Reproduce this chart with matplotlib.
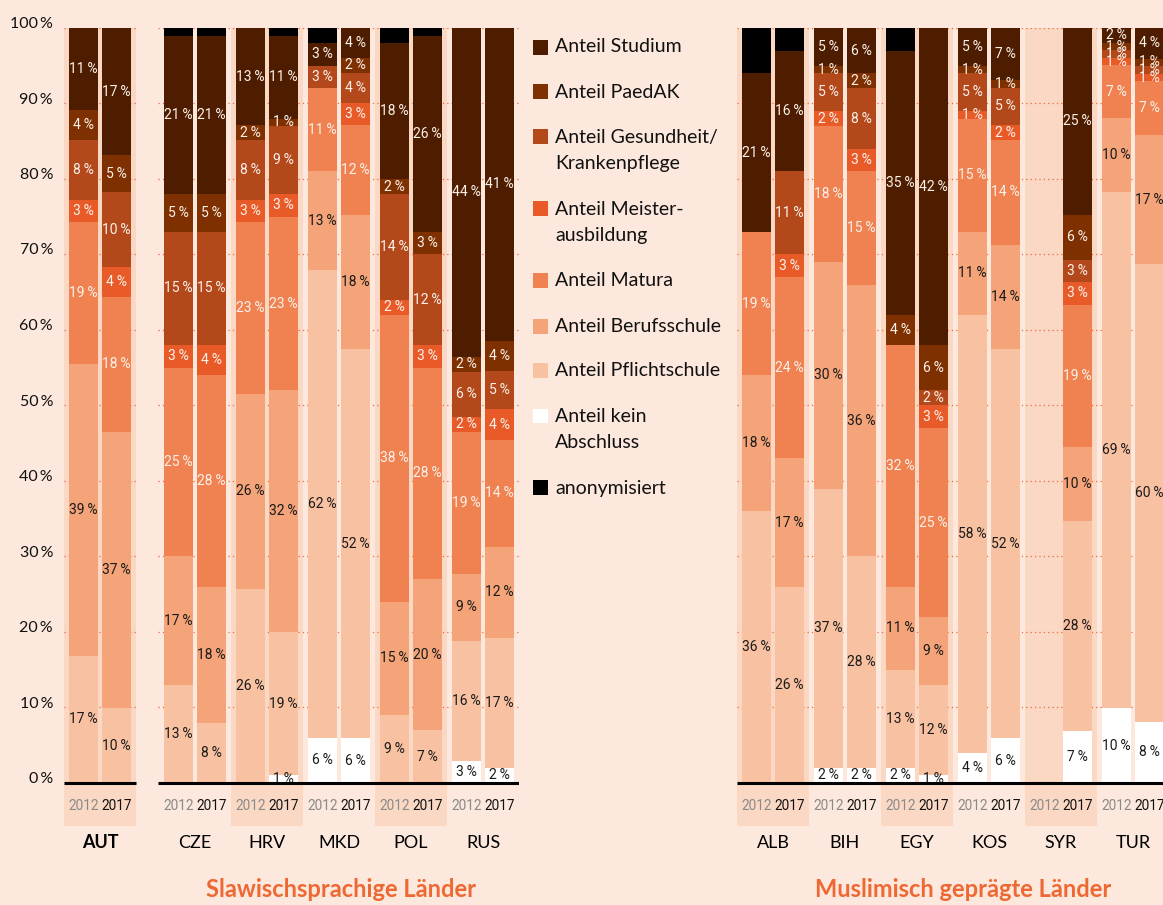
import numpy as np
import matplotlib.pyplot as plt
from matplotlib.patches import Rectangle

# -------------------------------------------------------
# Data: shares (%) per bar, order = country x (2012, 2017)
# -------------------------------------------------------
countries_left = ["AUT", "CZE", "HRV", "MKD", "POL", "RUS"]
countries_right = ["ALB", "BIH", "EGY", "KOS", "SYR", "TUR"]
years = ["2012", "2017"]

kein = [0, 0, 0, 0, 0, 1, 6, 6, 0, 0, 3, 2,
        0, 0, 2, 2, 2, 1, 4, 6, 0, 7, 10, 8]
pflicht = [17, 10, 13, 8, 26, 19, 62, 52, 9, 7, 16, 17,
           36, 26, 37, 28, 13, 12, 58, 52, 0, 28, 69, 60]
beruf = [39, 37, 17, 18, 26, 32, 13, 18, 15, 20, 9, 12,
         18, 17, 30, 36, 11, 9, 11, 14, 0, 10, 10, 17]
matura = [19, 18, 25, 28, 23, 23, 11, 12, 38, 28, 19, 14,
          19, 24, 18, 15, 32, 25, 15, 14, 0, 19, 7, 7]
meister = [3, 4, 3, 4, 3, 3, 0, 3, 2, 3, 2, 4,
           0, 3, 2, 3, 0, 3, 1, 2, 0, 3, 1, 1]
gesund = [8, 10, 15, 15, 8, 9, 3, 4, 14, 12, 6, 5,
          0, 11, 5, 8, 0, 2, 5, 5, 0, 3, 1, 1]
paedak = [4, 5, 5, 5, 2, 1, 0, 2, 2, 3, 2, 4,
          0, 0, 1, 2, 4, 6, 1, 1, 0, 6, 1, 1]
studium = [11, 17, 21, 21, 13, 11, 3, 4, 18, 26, 44, 41,
           21, 16, 5, 6, 35, 42, 5, 7, 0, 25, 2, 4]
anon = [0, 0, 1, 1, 0, 1, 2, 0, 2, 1, 0, 0,
        6, 3, 0, 0, 3, 0, 0, 0, 0, 0, 0, 0]

# stacking order bottom -> top
series = [kein, pflicht, beruf, matura, meister, gesund, paedak, studium]
colors = ["#FFFFFF", "#F8C2A2", "#F4A478", "#EF8250", "#E85B28",
          "#B3481B", "#7E3000", "#4E1D00"]
text_colors = ["#1A1A1A", "#1A1A1A", "#1A1A1A", "#FBF1EA", "#FBF1EA",
               "#FBF1EA", "#FBF1EA", "#FBF1EA"]
anon_color = "#000000"

legend_labels = ["Anteil Studium", "Anteil PaedAK", "Anteil Gesundheit/\nKrankenpflege",
                 "Anteil Meister-\nausbildung", "Anteil Matura", "Anteil Berufsschule",
                 "Anteil Pflichtschule", "Anteil kein\nAbschluss", "anonymisiert"]
legend_colors = colors[::-1][:7] + ["#FFFFFF", anon_color]

BG = "#FCE8DC"
BAND = "#FAD8C4"
GRID = "#EE6A3F"
ORANGE = "#EE6833"

W, H = 1163, 905
NARROW = ["Roboto", "DejaVu Sans"]
plt.rcParams["font.family"] = ["Lato", "DejaVu Sans"]

fig = plt.figure(figsize=(W / 100, H / 100), dpi=100)
fig.patch.set_facecolor(BG)

Y0 = -5.7
BAR_OFF = 0.229
BAR_W = 0.40


def px(x, y):
    return x / W, 1 - y / H


def draw_group(ax, names, xpos, start, bands, axis_segments, title, title_x):
    ax.set_facecolor("none")
    ax.set_xlim(axis_segments[0][0], axis_segments[-1][1])
    ax.set_ylim(Y0, 100)
    ax.axis("off")

    for b in bands:
        ax.add_patch(Rectangle((xpos[b] - 0.5, Y0), 1.0, 100 - Y0,
                               facecolor=BAND, edgecolor="none", zorder=0))
    for g in range(10, 101, 10):
        for a, b in axis_segments:
            ax.hlines(g, a, b, colors=GRID, lw=0.9, linestyles=(0, (1, 2.5)), zorder=1)
    for a, b in axis_segments:
        ax.hlines(0, a, b, colors="black", lw=2.2, zorder=5)

    for ci, name in enumerate(names):
        for yi, yr in enumerate(years):
            i = start + ci * 2 + yi
            x = xpos[ci] + (BAR_OFF if yi else -BAR_OFF)
            vals = [s[i] for s in series]
            tot = sum(vals)
            ax.text(x, -3.05, yr, ha="center", va="center", fontsize=9.8,
                    family=NARROW, color="#8A8A8A" if yi == 0 else "#111111")
            if tot == 0:
                continue
            scale = (100 - anon[i]) / tot
            bottom = 0
            for v, c, tc in zip(vals, colors, text_colors):
                h = v * scale
                if v > 0:
                    ax.bar(x, h, BAR_W, bottom=bottom, color=c, edgecolor="none", zorder=2)
                    ax.text(x, bottom + h / 2, f"{v}\u2009%", ha="center", va="center",
                            fontsize=10, family=NARROW, color=tc, zorder=3)
                bottom += h
            if anon[i] > 0:
                ax.bar(x, anon[i], BAR_W, bottom=bottom, color=anon_color,
                       edgecolor="none", zorder=2)
        ax.text(xpos[ci], -7.95, name, ha="center", va="center", fontsize=13,
                color="black", fontweight="bold" if name == "AUT" else "normal")

    fig.text(*px(title_x, 889), title, ha="center", va="center", fontsize=17,
             fontweight="bold", color=ORANGE)


# -------------------------------------------------------
# Left group (Austria + Slavic-speaking countries)
# -------------------------------------------------------
ax_l = fig.add_axes([64 / W, 1 - 826 / H, 455 / W, 798 / H])
xpos_l = [0, 1.32, 2.32, 3.32, 4.32, 5.32]
draw_group(ax_l, countries_left, xpos_l, 0, [0, 2, 4],
           [(-0.5, 0.5), (0.806, 5.82)], "Slawischsprachige Länder", 341)

# y tick labels
for g in range(0, 101, 10):
    fig.text(53 / W, 1 - (783 - g * 7.55) / H, f"{g}\u2009%", ha="right", va="baseline",
             fontsize=11.5, color="#111111")

# -------------------------------------------------------
# Right group (Muslim-majority countries)
# -------------------------------------------------------
ax_r = fig.add_axes([737 / W, 1 - 826 / H, 426 / W, 798 / H])
xpos_r = [0, 1, 2, 3, 4, 5]
draw_group(ax_r, countries_right, xpos_r, 12, [0, 2, 4],
           [(-0.5, 5.417)], "Muslimisch geprägte Länder", 963)

# -------------------------------------------------------
# Legend
# -------------------------------------------------------
y = 47
for lab, col in zip(legend_labels, legend_colors):
    fig.add_artist(Rectangle(px(533, y + 7.5), 15 / W, 15 / H, transform=fig.transFigure,
                             facecolor=col, edgecolor="none"))
    lines = lab.split("\n")
    for k, line in enumerate(lines):
        fig.text(*px(555, y + k * 27), line, ha="left", va="center", fontsize=14,
                 color="#111111")
    y += 45 + 27 * (len(lines) - 1)

fig.savefig("out.png", dpi=100, facecolor=BG)
